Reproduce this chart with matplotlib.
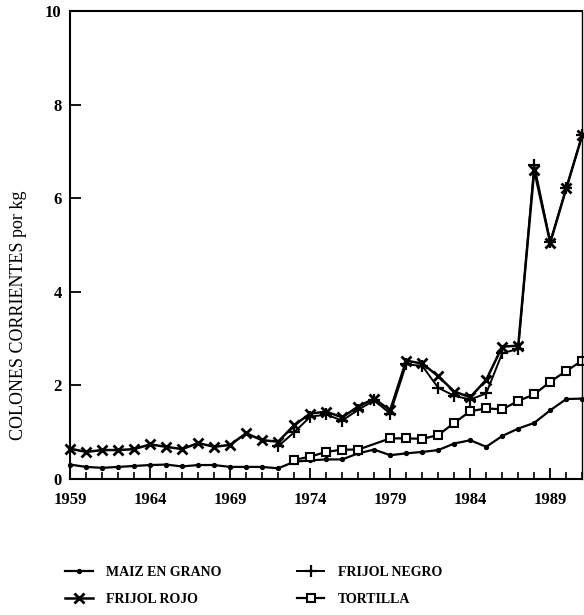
import matplotlib.pyplot as plt
from matplotlib.ticker import MultipleLocator

years = list(range(1959, 1992))

maiz = [0.31, 0.26, 0.24, 0.26, 0.28, 0.30, 0.31, 0.27, 0.30, 0.30, 0.26,
        0.26, 0.26, 0.23, 0.37, 0.40, 0.42, 0.42, 0.55, 0.63, 0.51, 0.55,
        0.58, 0.62, 0.76, 0.83, 0.69, 0.92, 1.08, 1.20, 1.47, 1.71, 1.72]

frijol_rojo = [0.65, 0.58, 0.62, 0.62, 0.64, 0.74, 0.69, 0.64, 0.77, 0.69, 0.73,
               0.98, 0.83, 0.80, 1.15, 1.40, 1.44, 1.32, 1.55, 1.72, 1.47, 2.53,
               2.47, 2.20, 1.87, 1.75, 2.12, 2.83, 2.85, 6.60, 5.05, 6.21, 7.35]

negro_years = list(range(1972, 1992))
frijol_negro = [0.70, 1.00, 1.33, 1.38, 1.25, 1.48, 1.68, 1.40, 2.45, 2.42,
                1.95, 1.78, 1.70, 1.83, 2.69, 2.78, 6.71, 5.07, 6.21, 7.35]

tortilla_years = [1973, 1974, 1975, 1976, 1977, 1979, 1980, 1981, 1982, 1983,
                  1984, 1985, 1986, 1987, 1988, 1989, 1990, 1991]
tortilla = [0.41, 0.48, 0.58, 0.63, 0.63, 0.87, 0.87, 0.86, 0.94, 1.20,
            1.45, 1.51, 1.49, 1.67, 1.81, 2.08, 2.31, 2.53]

plt.rcParams['font.family'] = ['Liberation Serif', 'DejaVu Serif']

fig = plt.figure(figsize=(5.84, 6.15), dpi=100)
ax = fig.add_axes([0.12, 0.221, 0.877, 0.761])

l1, = ax.plot(years, maiz, color='black', lw=1.6, marker='o', ms=2.8,
              label='MAIZ EN GRANO', clip_on=False)
l2, = ax.plot(years, frijol_rojo, color='black', lw=1.8, marker='x', ms=7,
              mew=2, label='FRIJOL ROJO', clip_on=False)
l3, = ax.plot(negro_years, frijol_negro, color='black', lw=1.4, marker='+',
              ms=9, mew=1.6, label='FRIJOL NEGRO', clip_on=False)
l4, = ax.plot(tortilla_years, tortilla, color='black', lw=1.6, marker='s',
              ms=6, mfc='white', mew=1.5, label='TORTILLA', clip_on=False)

ax.set_xlim(1959, 1991)
ax.set_ylim(0, 10)
ax.set_xticks(range(1959, 1992, 5))
ax.xaxis.set_minor_locator(MultipleLocator(1))
ax.yaxis.set_major_locator(MultipleLocator(2))
ax.tick_params(which='major', direction='in', length=8, width=1.3,
               labelsize=12)
ax.tick_params(axis='x', which='major', pad=9)
ax.tick_params(axis='y', which='major', pad=6)
ax.tick_params(which='minor', direction='in', length=5, width=1.2)
ax.tick_params(axis='y', which='minor', left=False)
for lab in ax.get_xticklabels() + ax.get_yticklabels():
    lab.set_fontweight('bold')
for s in ax.spines.values():
    s.set_linewidth(1.5)
ax.spines['right'].set_linewidth(1.0)

ax.set_ylabel('COLONES CORRIENTES por kg', fontsize=13)
ax.yaxis.set_label_coords(-0.085, 0.35)

fig.legend(handles=[l1, l2, l3, l4], ncol=2, frameon=False,
           loc='center left', bbox_to_anchor=(0.1, 0.047), borderpad=0,
           prop={'weight': 'bold', 'size': 10}, handlelength=2,
           columnspacing=5.4, labelspacing=1.0, handletextpad=0.95)

fig.savefig('out.png', dpi=100)
